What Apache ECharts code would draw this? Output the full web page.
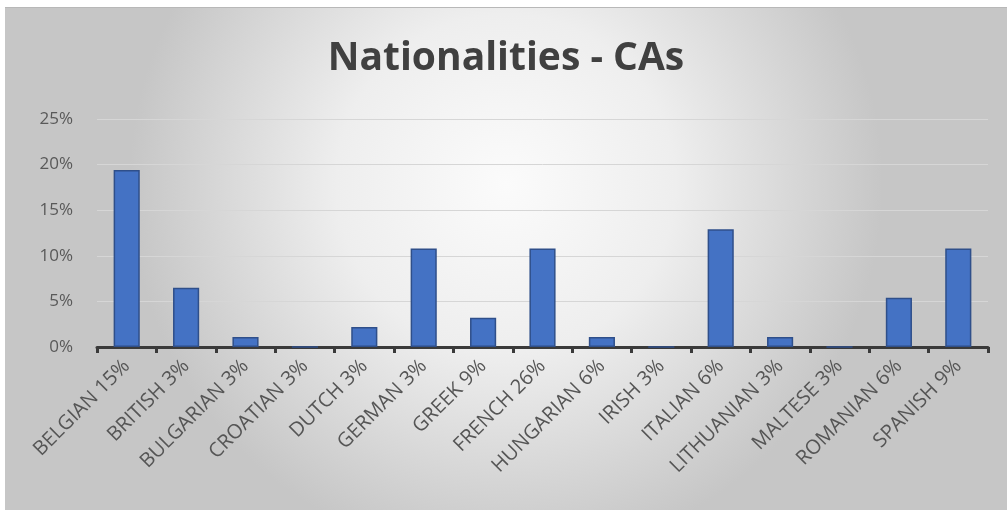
<!DOCTYPE html>
<html>
<head>
<meta charset="utf-8">
<script src="https://cdn.jsdelivr.net/npm/echarts@6/dist/echarts.min.js"></script>
<style>
  html, body { margin: 0; padding: 0; background: #ffffff; }
  #frame { position: absolute; left: 5px; top: 7px; width: 1002px; height: 503px;
           border-top: 1px solid #b8b8b8; box-sizing: border-box; }
  #chart { width: 100%; height: 100%; }
</style>
</head>
<body>
<div id="frame"><div id="chart"></div></div>
<script>
// Share of CAs by nationality (percent)
const categories = [
  'BELGIAN 15%', 'BRITISH 3%', 'BULGARIAN 3%', 'CROATIAN 3%', 'DUTCH 3%',
  'GERMAN 3%', 'GREEK 9%', 'FRENCH 26%', 'HUNGARIAN 6%', 'IRISH 3%',
  'ITALIAN 6%', 'LITHUANIAN 3%', 'MALTESE 3%', 'ROMANIAN 6%', 'SPANISH 9%'
];
const shares = [19.4, 6.5, 1.1, 0, 2.2, 10.8, 3.2, 10.8, 1.1, 0, 12.9, 1.1, 0, 5.4, 10.8];
const yTicks = { min: 0, max: 25, interval: 5 };
const chartTitle = 'Nationalities - CAs';

const labelFont = '"Open Sans", "DejaVu Sans", sans-serif';
const chart = echarts.init(document.getElementById('chart'));
chart.setOption({
  backgroundColor: new echarts.graphic.RadialGradient(0.5, 0.35, 0.75, [
    { offset: 0, color: '#fbfbfb' },
    { offset: 0.45, color: '#eeeeee' },
    { offset: 1, color: '#c6c6c6' }
  ]),
  animation: false,
  title: {
    text: chartTitle,
    left: 'center',
    top: 26,
    textStyle: { fontFamily: labelFont, fontWeight: 'bold', fontSize: 39, color: '#404040' }
  },
  grid: { left: 92, right: 19, top: 111, bottom: 163, containLabel: false },
  xAxis: {
    type: 'category',
    data: categories,
    axisLine: { show: true, lineStyle: { color: '#3a3a3a', width: 3 } },
    axisTick: { show: true, alignWithLabel: false, length: 6, lineStyle: { color: '#3a3a3a', width: 3 } },
    axisLabel: {
      rotate: 45, margin: 16, interval: 0,
      fontFamily: labelFont, fontSize: 20, color: '#555555'
    }
  },
  yAxis: {
    type: 'value',
    min: yTicks.min, max: yTicks.max, interval: yTicks.interval,
    axisLine: { show: false },
    axisTick: { show: false },
    splitLine: { lineStyle: { color: '#d6d6d6', width: 1 } },
    axisLabel: {
      margin: 24, fontFamily: labelFont, fontSize: 17, color: '#595959',
      formatter: v => v + '%'
    }
  },
  series: [{
    type: 'bar',
    data: shares,
    barWidth: '44%',
    itemStyle: { color: '#4472c4', borderColor: '#2f4f8a', borderWidth: 1.5 }
  }]
});
</script>
</body>
</html>
